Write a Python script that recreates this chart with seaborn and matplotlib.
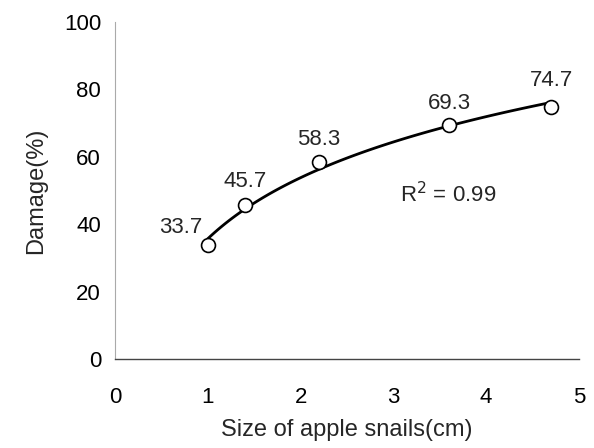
import matplotlib
matplotlib.use("Agg")
import matplotlib.pyplot as plt
import seaborn as sns
import pandas as pd

# data
snail_size = [1.0, 1.4, 2.2, 3.6, 4.7]
damage = [33.7, 45.7, 58.3, 69.3, 74.7]
point_labels = ["33.7", "45.7", "58.3", "69.3", "74.7"]
x_ticks = [0, 1, 2, 3, 4, 5]
y_ticks = [0, 20, 40, 60, 80, 100]

df = pd.DataFrame({"size": snail_size, "damage": damage})

sns.set_style("white")
plt.rcParams["font.family"] = ["Liberation Sans", "DejaVu Sans"]

fig = plt.figure(figsize=(5.94, 4.48), dpi=100)
ax = fig.add_axes([0.1936, 0.1987, 0.7811, 0.7523])

# log trend line (fit by seaborn), then open circles on top
sns.regplot(data=df, x="size", y="damage", logx=True, ci=None, scatter=False,
            truncate=True, line_kws={"color": "black", "lw": 2.0}, ax=ax)
sns.scatterplot(data=df, x="size", y="damage", marker="o", s=100,
                facecolor="white", edgecolor="black", linewidth=1.2,
                zorder=5, ax=ax)

offsets = [(-4, 5), (0, 9), (0, 9), (0, 8), (0, 12)]
aligns = ["right", "center", "center", "center", "center"]
for xv, yv, lab, off, ha in zip(snail_size, damage, point_labels, offsets, aligns):
    ax.annotate(lab, (xv, yv), xytext=off, textcoords="offset points",
                ha=ha, va="bottom", fontsize=16)

ax.text(3.59, 48.7, r"R$^2$ = 0.99", fontsize=16, ha="center", va="center")

ax.set_xlim(0, 5)
ax.set_ylim(0, 100)
ax.set_xticks(x_ticks)
ax.set_yticks(y_ticks)
ax.set_xlabel("Size of apple snails(cm)", fontsize=17, labelpad=8)
ax.set_ylabel("Damage(%)", fontsize=17, labelpad=12)

ax.tick_params(axis="x", direction="in", length=6, width=1, colors="black",
               pad=20, labelsize=16)
ax.tick_params(axis="y", direction="in", length=3, width=0.6, color="#999999",
               pad=10, labelsize=16, labelcolor="black")

for side in ["top", "right"]:
    ax.spines[side].set_visible(False)
ax.spines["left"].set_color("#aaaaaa")
ax.spines["left"].set_linewidth(0.8)
ax.spines["bottom"].set_color("#444444")
ax.spines["bottom"].set_linewidth(1.0)

fig.patch.set_facecolor("white")
fig.savefig("out.png", dpi=100)
